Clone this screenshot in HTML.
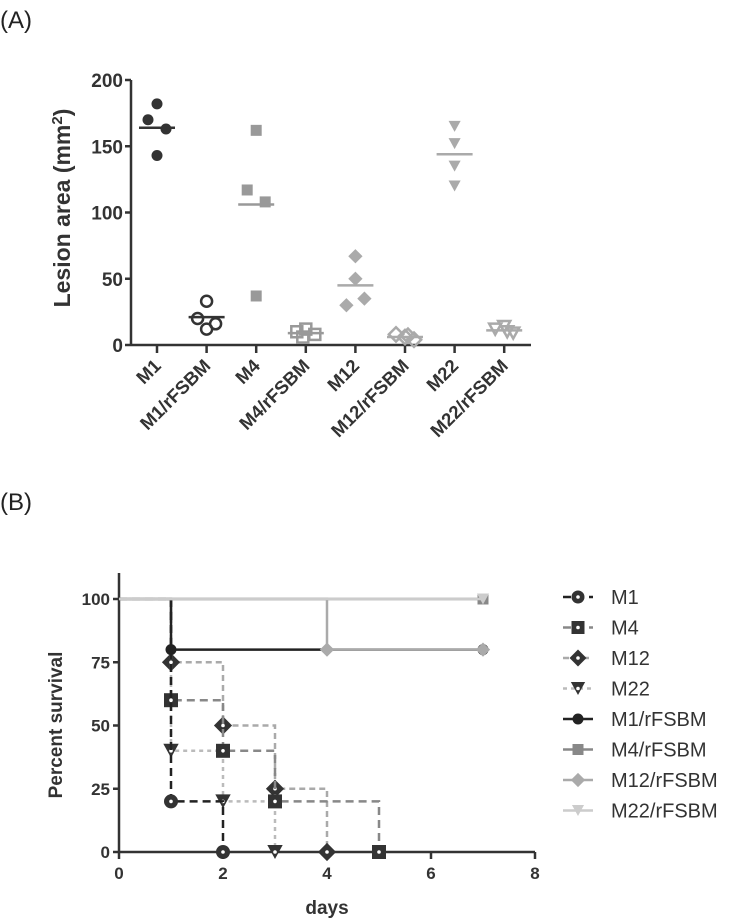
<!DOCTYPE html>
<html><head><meta charset="utf-8"><style>
body{margin:0;background:#fff;}
svg{display:block;font-family:"Liberation Sans",Arial,sans-serif;}
</style></head><body>
<svg id="fig" width="733" height="920">
<text x="0" y="28" font-size="24" fill="#222">(A)</text>
<text x="0" y="510" font-size="24" fill="#222">(B)</text>
<g id="chartA"></g>
<g id="chartB"></g>
</svg>
<script>
const catsA=["M1","M1/rFSBM","M4","M4/rFSBM","M12","M12/rFSBM","M22","M22/rFSBM"];
const valsA=[[182,170,163,143],[33,20,16,12],[162,117,108,37],[10,12,8,6],[67,50,35,30],[8,6,4,7],[165,152,135,120],[12,14,9,10]];
const meansA=[164,21,106,9,45,6,144,11];
const ticksA=[0,50,100,150,200];
const catsB=["M1","M4","M12","M22","M1/rFSBM","M4/rFSBM","M12/rFSBM","M22/rFSBM"];
const daysB=[[0,1,2],[0,1,2,3,5],[0,1,2,3,4],[0,1,2,3],[0,1,7],[0,7],[0,4,7],[0,7]];
const survB=[[100,20,0],[100,60,40,20,0],[100,75,50,25,0],[100,40,20,0],[100,80,80],[100,100],[100,80,80],[100,100]];
const ticksBx=[0,2,4,6,8];
const ticksBy=[0,25,50,75,100];

const NS="http://www.w3.org/2000/svg";
function mk(p,t,a){const e=document.createElementNS(NS,t);for(const k in a)e.setAttribute(k,a[k]);p.appendChild(e);return e;}
function marker(g,shape,x,y,r,fill,stroke,sw){
  let e;
  if(shape==="circle")e=mk(g,"circle",{cx:x,cy:y,r:r,fill:fill,stroke:stroke,"stroke-width":sw});
  else if(shape==="square")e=mk(g,"rect",{x:x-r,y:y-r,width:2*r,height:2*r,fill:fill,stroke:stroke,"stroke-width":sw});
  else if(shape==="diamond")e=mk(g,"polygon",{points:`${x},${y-r*1.3} ${x+r*1.3},${y} ${x},${y+r*1.3} ${x-r*1.3},${y}`,fill:fill,stroke:stroke,"stroke-width":sw});
  else e=mk(g,"polygon",{points:`${x-r*1.1},${y-r} ${x+r*1.1},${y-r} ${x},${y+r}`,fill:fill,stroke:stroke,"stroke-width":sw});
  return e;
}
// Chart A
const gA=document.getElementById("chartA");
const ax0=131,ax1=531,ay0=345,ay1=80;
const yA=v=>ay0-(v/200)*(ay0-ay1);
const xA=i=>157+i*49.6;
let e=mk(gA,"line",{x1:ax0,y1:ay1,x2:ax0,y2:ay0,stroke:"#333","stroke-width":2.5});

e=mk(gA,"line",{x1:ax0,y1:ay0,x2:ax1,y2:ay0,stroke:"#333","stroke-width":2.5});

ticksA.forEach(t=>{
  mk(gA,"line",{x1:ax0-6,y1:yA(t),x2:ax0,y2:yA(t),stroke:"#333","stroke-width":2.5});
  const tx=mk(gA,"text",{x:ax0-8,y:yA(t)+7,"text-anchor":"end","font-size":19,"font-weight":"bold",fill:"#333"});
  tx.textContent=t;
  
});
const shpA=["circle","circle","square","square","diamond","diamond","triangle","triangle"];
const colA=["#333","#333","#999","#999","#aaa","#aaa","#aaa","#aaa"];
const jit=[[0,-9,9,0],[0,-9,9,0],[0,-9,9,0],[-9,0,9,-3],[0,0,9,-9],[-9,0,9,3],[0,0,0,0],[-9,0,9,3]];
catsA.forEach((c,i)=>{
  const x=xA(i);
  mk(gA,"line",{x1:x,y1:ay0,x2:x,y2:ay0+8,stroke:"#333","stroke-width":2.5});
  const tl=mk(gA,"text",{x:x+5,y:ay0+22,"text-anchor":"end","font-size":18.5,"font-weight":"bold",fill:"#333",transform:`rotate(-45 ${x+5} ${ay0+22})`});
  tl.textContent=c;
  
  const open=i%2===1;
  valsA[i].forEach((v,k)=>{
    const m=marker(gA,shpA[i],x+jit[i][k],yA(v),5.5,open?"none":colA[i],colA[i],open?2.5:0);
    
  });
  const ml=mk(gA,"line",{x1:x-18,y1:yA(meansA[i]),x2:x+18,y2:yA(meansA[i]),stroke:colA[i],"stroke-width":2.5});
  
});
e=mk(gA,"text",{x:0,y:0,"text-anchor":"middle","font-size":23,"font-weight":"bold",fill:"#333",transform:"translate(70 208) rotate(-90)"});
e.innerHTML='Lesion area (mm<tspan dy="-8" font-size="15">2</tspan><tspan dy="8">)</tspan>';


// Chart B
const gB=document.getElementById("chartB");
const bx0=119,by0=852,by100=599;
const xB=d=>bx0+d*52;
const yB=v=>by0-(v/100)*(by0-by100);
e=mk(gB,"line",{x1:bx0,y1:573,x2:bx0,y2:by0,stroke:"#333","stroke-width":2.5});

e=mk(gB,"line",{x1:bx0,y1:by0,x2:xB(8),y2:by0,stroke:"#333","stroke-width":2.5});

ticksBy.forEach(t=>{
  mk(gB,"line",{x1:bx0-6,y1:yB(t),x2:bx0,y2:yB(t),stroke:"#333","stroke-width":2.5});
  const tx=mk(gB,"text",{x:bx0-9,y:yB(t)+6,"text-anchor":"end","font-size":17,"font-weight":"bold",fill:"#333"});
  tx.textContent=t;
  
});
ticksBx.forEach(t=>{
  mk(gB,"line",{x1:xB(t),y1:by0,x2:xB(t),y2:by0+7,stroke:"#333","stroke-width":2.5});
  const tx=mk(gB,"text",{x:xB(t),y:by0+27,"text-anchor":"middle","font-size":17,"font-weight":"bold",fill:"#333"});
  tx.textContent=t;
  
});
e=mk(gB,"text",{x:327,y:914,"text-anchor":"middle","font-size":19,"font-weight":"bold",fill:"#333"});e.textContent="days";

e=mk(gB,"text",{x:0,y:0,"text-anchor":"middle","font-size":19,"font-weight":"bold",fill:"#333",transform:"translate(62 725) rotate(-90)"});e.textContent="Percent survival";

const shpB=["circle","square","diamond","triangle","circle","square","diamond","triangle"];
const lcB=["#222","#888","#aaa","#bbb","#222","#888","#aaa","#ccc"];
const dashB=["8,5","8,5","6,4","4,4","","","",""];
const mfB=["#333","#333","#333","#333","#222","#888","#aaa","#ccc"];
const order=[3,2,1,0,4,6,5,7];
order.forEach(i=>{
  const d=daysB[i],s=survB[i];
  let p=`M${xB(d[0])},${yB(s[0])}`;
  for(let k=1;k<d.length;k++){p+=` H${xB(d[k])} V${yB(s[k])}`;}
  const path=mk(gB,"path",{d:p,fill:"none",stroke:lcB[i],"stroke-width":2.5,"stroke-dasharray":dashB[i]});
  
  for(let k=1;k<d.length;k++){
    const m=marker(gB,shpB[i],xB(d[k]),yB(s[k]),i<4?7:5.5,mfB[i],"none",0);
    if(i<4) mk(gB,"circle",{cx:xB(d[k]),cy:yB(s[k]),r:1.8,fill:"#fff"});
    
  }
});
catsB.forEach((c,i)=>{
  const y=597+30.5*i;
  const g=mk(gB,"g",{});
  
  mk(g,"line",{x1:563,y1:y,x2:593,y2:y,stroke:lcB[i],"stroke-width":2.5,"stroke-dasharray":dashB[i]});
  marker(g,shpB[i],578,y,i<4?6.5:5.5,mfB[i],"none",0);
  if(i<4) mk(g,"circle",{cx:578,cy:y,r:1.8,fill:"#fff"});
  const t=mk(g,"text",{x:611,y:y+7,"font-size":20,fill:"#333"});t.textContent=c;
});
</script>
</body></html>
